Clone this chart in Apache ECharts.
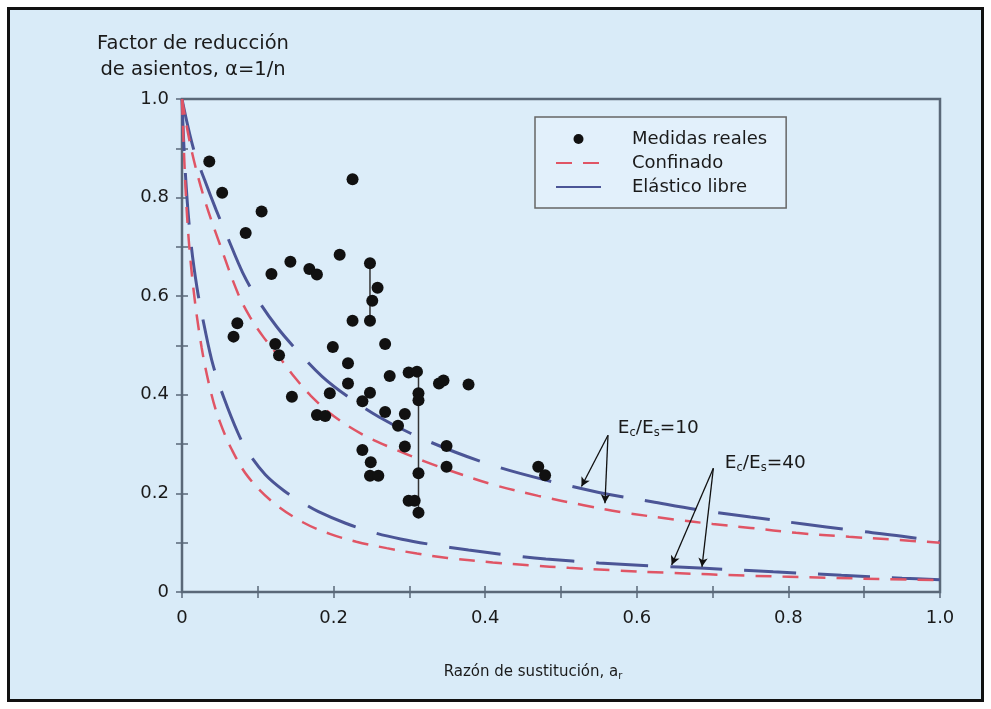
<!DOCTYPE html>
<html>
<head>
<meta charset="utf-8">
<script src="https://cdn.jsdelivr.net/npm/echarts@6/dist/echarts.min.js"></script>
<style>html,body{margin:0;padding:0;background:#fff}#c{width:991px;height:709px}</style>
</head>
<body>
<div id="c"></div>
<script>
// ---- data ----
const xTicks = [0, 0.2, 0.4, 0.6, 0.8, 1.0];
const yTicks = [0, 0.2, 0.4, 0.6, 0.8, 1.0];

const medidasReales = [
  [0.036,0.873],[0.053,0.810],[0.105,0.772],[0.084,0.728],[0.225,0.837],[0.208,0.684],
  [0.143,0.670],[0.118,0.645],[0.168,0.655],[0.178,0.644],[0.248,0.667],[0.258,0.617],
  [0.251,0.591],[0.225,0.550],[0.248,0.550],[0.073,0.545],[0.068,0.518],[0.123,0.503],
  [0.128,0.480],[0.199,0.497],[0.268,0.503],[0.219,0.464],[0.274,0.438],[0.219,0.423],
  [0.195,0.403],[0.248,0.404],[0.238,0.387],[0.145,0.396],[0.268,0.365],[0.285,0.337],
  [0.178,0.359],[0.189,0.357],[0.238,0.288],[0.249,0.263],[0.248,0.236],[0.259,0.236],
  [0.299,0.445],[0.310,0.447],[0.312,0.403],[0.312,0.389],[0.339,0.423],[0.345,0.429],
  [0.378,0.421],[0.294,0.361],[0.294,0.295],[0.349,0.296],[0.349,0.254],[0.312,0.241],
  [0.299,0.185],[0.307,0.185],[0.312,0.161],[0.470,0.254],[0.479,0.237]
];
const rangos = [[0.248,0.667],[0.248,0.550],null,[0.312,0.447],[0.312,0.161]];

const elastico10 = [
  [0,1.0],[0.015,0.90],[0.03,0.835],[0.045,0.775],[0.06,0.72],[0.08,0.648],[0.10,0.593],
  [0.125,0.538],[0.15,0.493],[0.185,0.437],[0.22,0.395],[0.26,0.355],[0.30,0.323],
  [0.36,0.284],[0.42,0.252],[0.48,0.227],[0.55,0.202],[0.62,0.183],[0.68,0.167],
  [0.75,0.152],[0.82,0.138],[0.88,0.126],[0.95,0.113],[1.0,0.102]
];
const confinado10 = [
  [0,1.0],[0.012,0.90],[0.029,0.80],[0.05,0.705],[0.074,0.605],[0.09,0.557],[0.107,0.518],
  [0.129,0.475],[0.15,0.433],[0.17,0.398],[0.20,0.357],[0.24,0.318],[0.28,0.290],
  [0.32,0.265],[0.36,0.243],[0.41,0.218],[0.47,0.195],[0.53,0.176],[0.58,0.162],
  [0.65,0.147],[0.70,0.138],[0.75,0.130],[0.81,0.120],[0.88,0.112],[0.94,0.106],[1.0,0.100]
];
const elastico40 = [
  [0,1.0],[0.004,0.86],[0.011,0.72],[0.02,0.615],[0.03,0.535],[0.041,0.46],[0.055,0.395],
  [0.074,0.322],[0.087,0.284],[0.11,0.238],[0.135,0.205],[0.158,0.182],[0.18,0.163],
  [0.215,0.140],[0.252,0.121],[0.29,0.107],[0.33,0.096],[0.378,0.085],[0.43,0.075],
  [0.48,0.067],[0.55,0.059],[0.62,0.053],[0.69,0.048],[0.78,0.041],[0.87,0.034],
  [0.95,0.028],[1.0,0.025]
];
const confinado40 = [
  [0,1.0],[0.006,0.78],[0.014,0.63],[0.026,0.495],[0.039,0.40],[0.05,0.345],[0.066,0.288],
  [0.087,0.234],[0.12,0.182],[0.16,0.141],[0.195,0.118],[0.23,0.102],[0.27,0.089],
  [0.31,0.078],[0.35,0.069],[0.41,0.060],[0.46,0.054],[0.51,0.049],[0.57,0.044],
  [0.64,0.039],[0.75,0.033],[0.85,0.029],[0.93,0.026],[1.0,0.024]
];

// annotation arrows: tail -> head (data coordinates)
const flechas = [
  [[0.562,0.318],[0.527,0.214]],
  [[0.562,0.318],[0.558,0.180]],
  [[0.701,0.251],[0.646,0.055]],
  [[0.701,0.251],[0.686,0.051]]
];
const etiquetas = [
  {pos:[0.575,0.333], txt:'{n|E}{s|c}{n|/E}{s|s}{n|=10}'},
  {pos:[0.716,0.262], txt:'{n|E}{s|c}{n|/E}{s|s}{n|=40}'}
];

// ---- chart ----
const FONT = 'DejaVu Sans';
const AX = '#5a6878';
const BLUE = '#4b5596';
const RED = '#e05565';
const chart = echarts.init(document.getElementById('c'), null, {renderer:'canvas'});

function isMajor(v) { return Math.round(v * 10) % 2 === 0; }

function valAxis(pos, labels) {
  return {
    type:'value', min:0, max:1, interval:0.1, position:pos,
    axisLine:{show:false},
    axisTick:{show:true, inside:true, length:6, lineStyle:{color:AX, width:1.5}},
    splitLine:{show:false},
    axisLabel:{show:labels, fontFamily:FONT, fontSize:18, color:'#1a1a1a',
      formatter: v => !isMajor(v) ? '' : (Math.abs(v) < 1e-9 ? '0' : v.toFixed(1))}
  };
}
const xb = valAxis('bottom', true); xb.axisLabel.margin = 17;
xb.name = 'Razón de sustitución, a{s|r}';
xb.nameLocation = 'middle'; xb.nameGap = 71;
xb.nameTextStyle = {fontFamily:FONT, fontSize:15, color:'#1a1a1a', padding:[0,56,0,0],
  rich:{s:{fontFamily:FONT, fontSize:10, color:'#1a1a1a', padding:[8,0,0,0]}}};
const yl = valAxis('left', true); yl.axisLabel.margin = 13;

const richLbl = {
  n:{fontFamily:FONT, fontSize:18.5, color:'#1a1a1a'},
  s:{fontFamily:FONT, fontSize:11.5, color:'#1a1a1a', padding:[10,0,0,0]}
};

const dashedLine = (name, data, color, dash, width) => ({
  name, type:'line', data, symbol:'none', smooth:0.35,
  lineStyle:{color, width, type:dash, cap:'butt'}, itemStyle:{color}, z:3, silent:true
});

chart.setOption({
  backgroundColor:'#d9ebf8',
  animation:false,
  title:{text:'Factor de reducción\nde asientos, α=1/n', left:188, top:26, textAlign:'center',
    textStyle:{fontFamily:FONT, fontSize:19.5, fontWeight:'normal', color:'#1a1a1a', lineHeight:26}},
  grid:{left:182, right:51, top:99, bottom:117, show:true, borderColor:AX, borderWidth:2.5,
    backgroundColor:'#dcedf9'},
  xAxis:[xb, valAxis('top', false)],
  yAxis:[yl, valAxis('right', false)],
  legend:{orient:'vertical', left:535, top:117, itemWidth:45, itemHeight:10, itemGap:6,
    padding:[13,19,12,20], borderColor:'#666', borderWidth:1.5, backgroundColor:'#e2f0fb',
    textStyle:{fontFamily:FONT, fontSize:18, color:'#1a1a1a', padding:[0,0,0,26]},
    data:[
      {name:'Medidas reales'},
      {name:'Confinado', itemStyle:{opacity:0}},
      {name:'Elástico libre', itemStyle:{opacity:0}}
    ]},
  graphic:[
    {type:'rect', shape:{x:0,y:0,width:991,height:709}, style:{fill:'none', stroke:'#fff', lineWidth:16}, z:100},
    {type:'rect', shape:{x:8.5,y:8.5,width:974,height:692}, style:{fill:'none', stroke:'#111', lineWidth:3}, z:101}
  ],
  series:[
    dashedLine('Elástico libre', elastico10, BLUE, [52,22], 3),
    dashedLine('Elástico libre', elastico40, BLUE, [52,22], 3),
    dashedLine('Confinado', confinado10, RED, [16,11], 2.5),
    dashedLine('Confinado', confinado40, RED, [16,11], 2.5),
    {name:'rango', type:'line', data:rangos, symbol:'none', connectNulls:false,
      lineStyle:{color:'#333', width:1.5}, z:4, silent:true},
    {name:'Medidas reales', type:'scatter', data:medidasReales, symbol:'circle', symbolSize:12,
      itemStyle:{color:'#111', opacity:1}, z:5},
    {name:'anot', type:'line', data:[], silent:true,
      markLine:{silent:true, symbol:['none','arrow'], symbolSize:[7,9], precision:3,
        lineStyle:{color:'#111', width:1.3, type:'solid'}, label:{show:false},
        data: flechas.map(f => [{coord:f[0]},{coord:f[1]}])},
      markPoint:{silent:true, symbol:'circle', symbolSize:0,
        data: etiquetas.map(e => ({coord:e.pos, label:{show:true, position:'right', distance:0,
          formatter:e.txt, rich:richLbl}}))}
    }
  ]
});
</script>
</body>
</html>
